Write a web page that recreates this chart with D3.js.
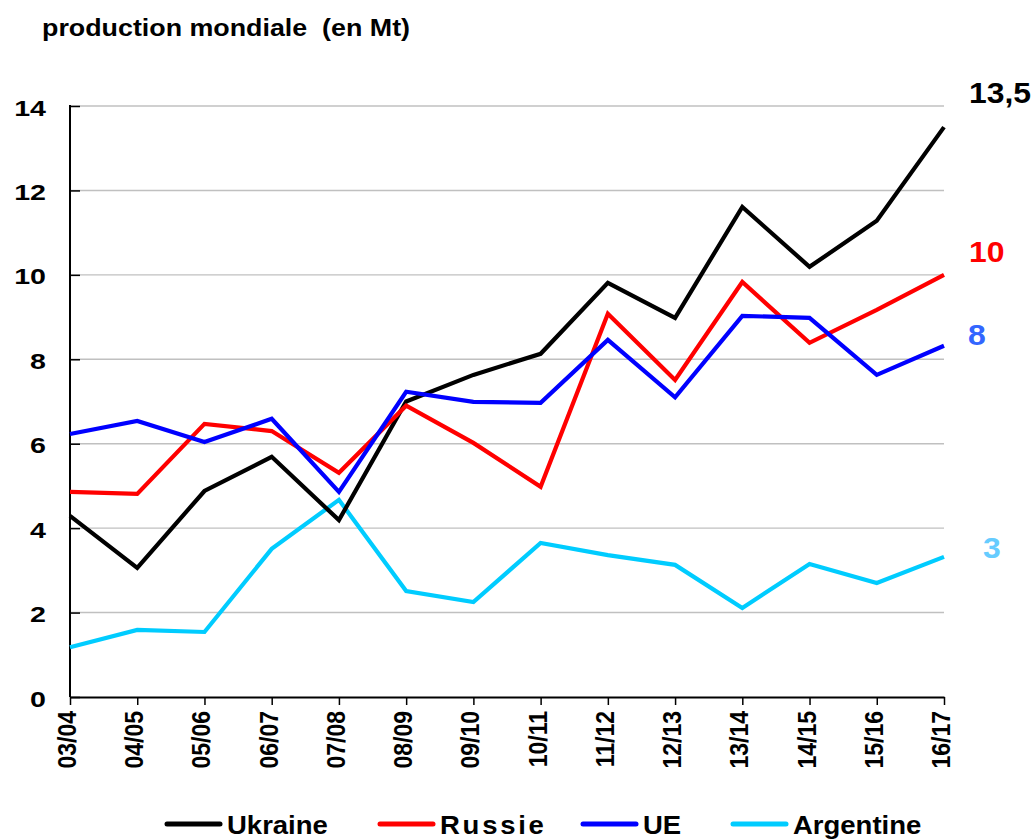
<!DOCTYPE html>
<html><head><meta charset="utf-8">
<script src="https://cdn.jsdelivr.net/npm/d3@7"></script>
<style>body{margin:0;background:#fff}svg{display:block;font-family:Arial,"Liberation Sans",sans-serif;font-weight:bold}</style>
</head><body>
<script>
const categories=["03/04","04/05","05/06","06/07","07/08","08/09","09/10","10/11","11/12","12/13","13/14","14/15","15/16","16/17"];
const ukraine=[4.29,3.06,4.88,5.69,4.19,7.0,7.63,8.13,9.81,8.98,11.61,10.19,11.28,13.5];
const russie=[4.86,4.81,6.47,6.30,5.31,6.9,6.02,4.98,9.08,7.51,9.83,8.39,9.17,10.0];
const ue=[6.23,6.54,6.04,6.59,4.86,7.23,6.99,6.97,8.46,7.10,9.03,8.98,7.63,8.32];
const argentine=[1.18,1.59,1.54,3.51,4.67,2.51,2.25,3.65,3.36,3.13,2.11,3.15,2.70,3.32];
const yTicks=[0,2,4,6,8,10,12,14];
const seriesNames=["Ukraine","Russie","UE","Argentine"];
const seriesColors=["#000000","#ff0000","#0000ff","#00ccff"];
const endLabels=["13,5","10","8","3"];
const endLabelColors=["#000000","#ff0000","#3366ff","#66ccff"];

const W=1034,H=839;
const svg=d3.select("body").append("svg").attr("width",W).attr("height",H);
const x=d3.scalePoint().domain(categories).range([70,944]);
const y=d3.scaleLinear().domain([0,14]).range([697,106]);

svg.append("text").attr("x",42).attr("y",36).attr("font-size",23)
  .attr("textLength",368).attr("lengthAdjust","spacingAndGlyphs")
  .style("white-space","pre").text("production mondiale  (en Mt)");

// gridlines
svg.append("g").selectAll("line").data(yTicks.filter(d=>d>0)).join("line")
  .attr("x1",70).attr("x2",944).attr("y1",d=>y(d)).attr("y2",d=>y(d))
  .attr("stroke","#c0c0c0").attr("stroke-width",1.4);

// y axis
const ya=svg.append("g").attr("transform","translate(70,0)")
  .call(d3.axisRight(y).tickValues(yTicks).tickSize(10).tickFormat(""));
ya.select(".domain").remove();
ya.selectAll("line").attr("stroke","#000").attr("stroke-width",1.5);
svg.append("line").attr("x1",70).attr("x2",70).attr("y1",y(14)-1).attr("y2",y(0)).attr("stroke","#000").attr("stroke-width",2);
svg.append("g").selectAll("text").data(yTicks).join("text")
  .attr("transform",d=>`translate(46,${y(d)+9.5}) scale(1.3,1)`)
  .attr("text-anchor","end").attr("font-size",22).text(d=>d);

// x axis
const xa=svg.append("g").attr("transform","translate(0,697)")
  .call(d3.axisBottom(x).tickSize(8).tickSizeOuter(0).tickFormat(""));
xa.select(".domain").attr("stroke","#000").attr("stroke-width",2);
xa.selectAll("line").attr("stroke","#000").attr("stroke-width",1.5);
svg.append("g").selectAll("text").data(categories).join("text")
  .attr("transform",d=>`translate(${x(d)+6},711) rotate(-90) scale(1,1.1)`)
  .attr("text-anchor","end").attr("font-size",23).text(d=>d);

// lines
const allSeries=[ukraine,russie,ue,argentine];
const line=d3.line().x((d,i)=>x(categories[i])).y(d=>y(d));
const drawOrder=[3,0,1,2];
svg.append("g").selectAll("path").data(drawOrder).join("path")
  .attr("d",i=>line(allSeries[i])).attr("fill","none")
  .attr("stroke",i=>seriesColors[i]).attr("stroke-width",4.2).attr("stroke-linejoin","miter");

// end labels
const endPos=[[969,103],[969,262],[968,345],[983,558]];
svg.append("g").selectAll("text").data(endLabels).join("text")
  .attr("transform",(d,i)=>`translate(${endPos[i][0]},${endPos[i][1]}) scale(1.1,1)`)
  .attr("font-size",29).attr("fill",(d,i)=>endLabelColors[i]).text(d=>d);

// legend
const legX=[167,380,583,733];
const lg=svg.append("g").selectAll("g").data(seriesNames).join("g")
  .attr("transform",(d,i)=>`translate(${legX[i]},824)`);
lg.append("line").attr("x1",0).attr("x2",53).attr("stroke",(d,i)=>seriesColors[i]).attr("stroke-width",5).attr("stroke-linecap","round");
lg.append("text").attr("transform","translate(60,10) scale(1.1,1)").attr("font-size",25)
  .attr("letter-spacing",(d,i)=>i===1?2.5:0).text(d=>d);
</script>
</body></html>
